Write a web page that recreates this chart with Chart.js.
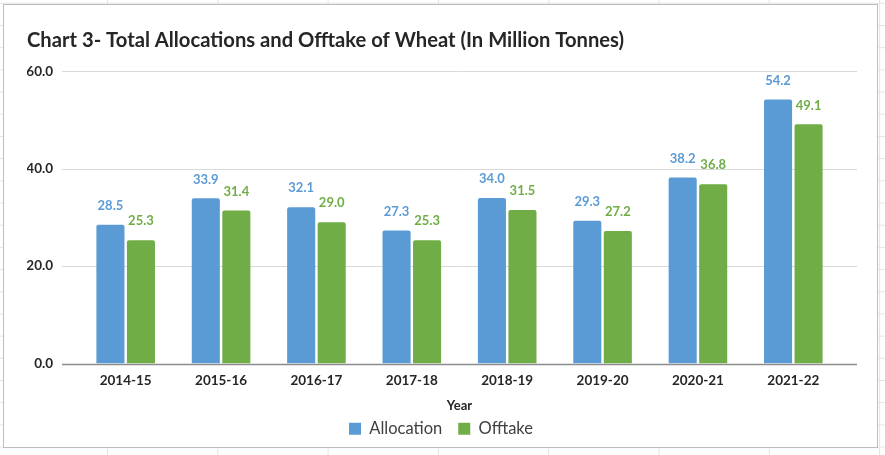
<!DOCTYPE html>
<html>
<head>
<meta charset="utf-8">
<script src="https://cdn.jsdelivr.net/npm/chart.js@4/dist/chart.umd.min.js"></script>
<style>
  body {
    margin: 0;
    width: 885px;
    height: 455px;
    background-color: #fff;
    background-image: linear-gradient(to right, #e4e4e4 1px, transparent 1px), linear-gradient(to bottom, #e4e4e4 1px, transparent 1px);
    background-size: 110.3px 22.2px;
    background-position: 107px 25px;
  }
  #frame { position: absolute; left: 3px; top: 4px; width: 873px; height: 442px; border: 1px solid #bdbdbd; background: #fff; }
  #myChart { position: absolute; left: 0; top: 0; }
</style>
</head>
<body>
<div id="frame"></div>
<canvas id="myChart" width="885" height="455"></canvas>
<script>
const years = ['2014-15', '2015-16', '2016-17', '2017-18', '2018-19', '2019-20', '2020-21', '2021-22']
const allocation = [28.5, 33.9, 32.1, 27.3, 34.0, 29.3, 38.2, 54.2]
const offtake = [25.3, 31.4, 29.0, 25.3, 31.5, 27.2, 36.8, 49.1]
const yTicks = [0, 20, 40, 60]

const blue = '#5b9bd5'
const green = '#70ad47'
const font = 'Lato, "Noto Sans", sans-serif'

// long gridlines + axis line, reaching past the bars like the excel chart
const gridPlugin = {
  id: 'longGrid',
  beforeDatasetsDraw(chart) {
    const ctx = chart.ctx
    const y = chart.scales.y
    const left = chart.chartArea.left - 16
    const right = chart.chartArea.right + 16
    ctx.save()
    yTicks.forEach(function (v) {
      const py = Math.round(y.getPixelForValue(v)) + 0.5
      ctx.strokeStyle = v === 0 ? '#8c8c8c' : '#d9d9d9'
      ctx.lineWidth = v === 0 ? 1.5 : 1
      ctx.beginPath()
      ctx.moveTo(left, py)
      ctx.lineTo(right, py)
      ctx.stroke()
    })
    ctx.restore()
  }
}

// value labels over each bar
const labelPlugin = {
  id: 'barLabels',
  afterDatasetsDraw(chart) {
    const ctx = chart.ctx
    ctx.save()
    ctx.font = 'bold 13px ' + font
    ctx.textAlign = 'center'
    ctx.textBaseline = 'middle'
    chart.data.datasets.forEach(function (ds, i) {
      const meta = chart.getDatasetMeta(i)
      ctx.fillStyle = ds.backgroundColor
      meta.data.forEach(function (bar, j) {
        ctx.fillText(ds.data[j].toFixed(1), bar.x, bar.y - 19)
      })
    })
    ctx.restore()
  }
}

const data = {
  labels: years,
  datasets: [{
    label: 'Allocation',
    backgroundColor: blue,
    data: allocation,
    borderRadius: 2,
    categoryPercentage: 0.64,
    barPercentage: 0.92
  }, {
    label: 'Offtake',
    backgroundColor: green,
    data: offtake,
    borderRadius: 2,
    categoryPercentage: 0.64,
    barPercentage: 0.92
  }]
}

const config = {
  type: 'bar',
  data: data,
  plugins: [gridPlugin, labelPlugin],
  options: {
    responsive: false,
    animation: false,
    layout: { padding: { left: 27, right: 30, top: 0, bottom: 8 } },
    plugins: {
      title: {
        display: true,
        text: 'Chart 3- Total Allocations and Offtake of Wheat (In Million Tonnes)',
        align: 'start',
        color: '#262626',
        font: { family: font, size: 20.2, weight: 'bold' },
        padding: { top: 28, bottom: 19 }
      },
      legend: {
        position: 'bottom',
        labels: {
          boxWidth: 12,
          boxHeight: 12,
          padding: 16,
          color: '#404040',
          font: { family: font, size: 16.5 }
        }
      },
      tooltip: { enabled: false }
    },
    scales: {
      x: {
        afterFit(scale) { scale.height = 41 },
        grid: { display: false, drawTicks: false },
        border: { display: false },
        ticks: { color: '#262626', padding: 9, font: { family: font, size: 13.5, weight: 'bold' } },
        title: {
          display: true,
          text: 'Year',
          color: '#262626',
          font: { family: font, size: 13, weight: 'bold' },
          padding: { top: 0, bottom: -9 }
        }
      },
      y: {
        min: 0,
        max: 60,
        afterBuildTicks(scale) {
          scale.ticks = yTicks.map(function (v) { return { value: v } })
        },
        afterFit(scale) { scale.width = 51 },
        grid: { display: false, drawTicks: false },
        border: { display: false },
        ticks: {
          color: '#262626',
          padding: 25,
          font: { family: font, size: 13.5, weight: 'bold' },
          callback: function (v) { return v.toFixed(1) }
        }
      },
      yRight: {
        position: 'right',
        afterFit(scale) { scale.width = 14 },
        grid: { display: false, drawTicks: false },
        border: { display: false },
        ticks: { display: false }
      }
    }
  }
}

const myChart = new Chart(document.getElementById('myChart'), config)
</script>
</body>
</html>
